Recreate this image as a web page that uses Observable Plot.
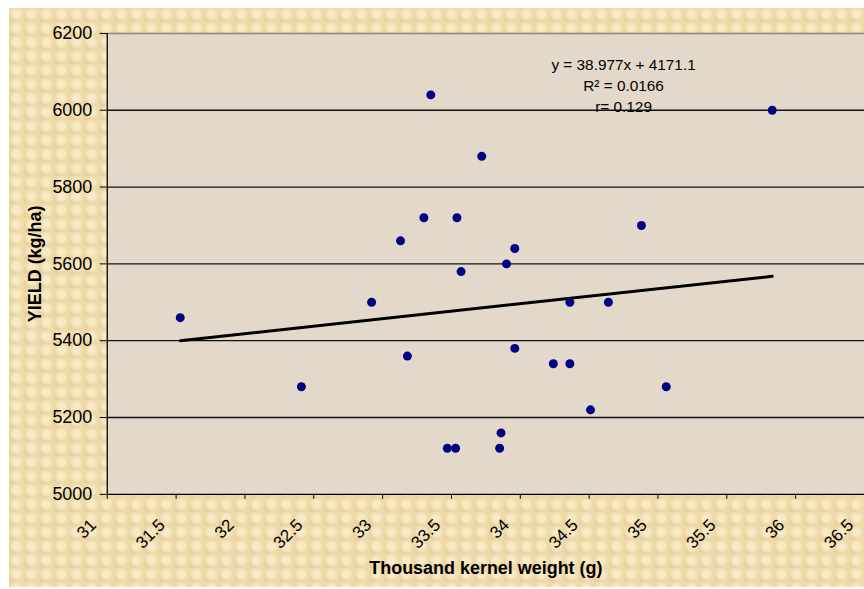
<!DOCTYPE html>
<html>
<head>
<meta charset="utf-8">
<script src="https://cdn.jsdelivr.net/npm/d3@7"></script>
<script src="https://cdn.jsdelivr.net/npm/@observablehq/plot@0.6"></script>
<style>
  html, body { margin: 0; padding: 0; background: #ffffff; overflow: hidden; }
  #wrap { position: relative; width: 864px; height: 589px; overflow: hidden; }
  #paper {
    position: absolute; left: 9px; top: 8px; right: 0; bottom: 2px;
    background-color: #eed9a9;
    background-image:
      radial-gradient(circle at 50% 45%, rgba(250,236,200,0.9) 0 28%, rgba(250,236,200,0) 62%),
      radial-gradient(circle at 0% 100%, rgba(226,204,160,0.5) 0 20%, rgba(226,204,160,0) 45%);
    background-size: 15px 14px;
  }
  #chart { position: absolute; left: 0; top: 0; }
</style>
</head>
<body>
<div id="wrap"><div id="paper"></div><div id="chart"></div></div>
<script>
// Thousand kernel weight (g)
const tkw = [31.53, 32.41, 32.92, 33.13, 33.18, 33.30, 33.35, 33.47, 33.53, 33.54, 33.57, 33.72, 33.85,
             33.86, 33.90, 33.96, 33.96, 34.24, 34.36, 34.36, 34.51, 34.64, 34.88, 35.06, 35.83];
// Yield (kg/ha)
const yieldKgHa = [5460, 5280, 5500, 5660, 5360, 5720, 6040, 5120, 5120, 5720, 5580, 5880, 5120,
                   5160, 5600, 5380, 5640, 5340, 5340, 5500, 5220, 5500, 5700, 5280, 6000];
const xTicks = [31, 31.5, 32, 32.5, 33, 33.5, 34, 34.5, 35, 35.5, 36, 36.5];
const yTicks = [5000, 5200, 5400, 5600, 5800, 6000, 6200];
const slope = 38.977;
const intercept = 4171.1;
const eqLines = ["y = 38.977x + 4171.1", "R² = 0.0166", "r= 0.129"];
const xTitle = "Thousand kernel weight (g)";
const yTitle = "YIELD (kg/ha)";

const points = tkw.map((x, i) => ({x, y: yieldKgHa[i]}));
const xMin = d3.min(tkw), xMax = d3.max(tkw);
const trend = [xMin, xMax].map(x => ({x, y: slope * x + intercept}));

const chart = Plot.plot({
  width: 866,
  height: 589,
  marginLeft: 107,
  marginRight: 0,
  marginTop: 33,
  marginBottom: 94,
  x: {domain: [31, 36.5], axis: null},
  y: {domain: [5000, 6200], axis: null},
  style: {background: "transparent", fontFamily: "'Liberation Sans', Arial, sans-serif", color: "#000", overflow: "visible"},
  marks: [
    Plot.frame({fill: "#e2d9cb", stroke: null}),
    Plot.ruleY(yTicks.filter(d => d > 5000 && d < 6200), {stroke: "#111", strokeWidth: 1.3}),
    Plot.ruleY([6200], {stroke: "#8a8580", strokeWidth: 1.5}),
    Plot.ruleX([31], {stroke: "#000", strokeWidth: 1.3}),
    Plot.ruleY([5000], {stroke: "#000", strokeWidth: 1.3}),
    Plot.axisX({ticks: xTicks, tickSize: 5, tickFormat: () => "", label: null, stroke: "#000"}),
    Plot.axisY({ticks: yTicks, tickSize: 7, tickFormat: () => "", label: null, stroke: "#000"}),
    Plot.text(xTicks, {x: d => d, frameAnchor: "bottom", text: d => String(d), rotate: -45,
      textAnchor: "end", lineAnchor: "middle", dx: -14, dy: 28, fontSize: 17, fill: "#000"}),
    Plot.text(yTicks, {y: d => d, frameAnchor: "left", text: d => String(d),
      textAnchor: "end", lineAnchor: "middle", dx: -15, fontSize: 18, fill: "#000"}),
    Plot.line(trend, {x: "x", y: "y", stroke: "#000", strokeWidth: 3}),
    Plot.dot(points, {x: "x", y: "y", r: 4.5, fill: "#000080", stroke: null}),
    Plot.text([eqLines.join("\n")], {x: 34.75, y: 6143, text: d => d, lineAnchor: "top",
      textAnchor: "middle", lineHeight: 1.35, fontSize: 15.4, fill: "#000"}),
    Plot.text([xTitle], {frameAnchor: "bottom", text: d => d, textAnchor: "middle", lineAnchor: "middle",
      dy: 74, fontWeight: "bold", fontSize: 18, fill: "#000"}),
    Plot.text([yTitle], {frameAnchor: "left", text: d => d, rotate: -90, textAnchor: "middle",
      lineAnchor: "middle", dx: -72, fontWeight: "bold", fontSize: 18, fill: "#000"})
  ]
});
document.getElementById("chart").appendChild(chart);
</script>
</body>
</html>
